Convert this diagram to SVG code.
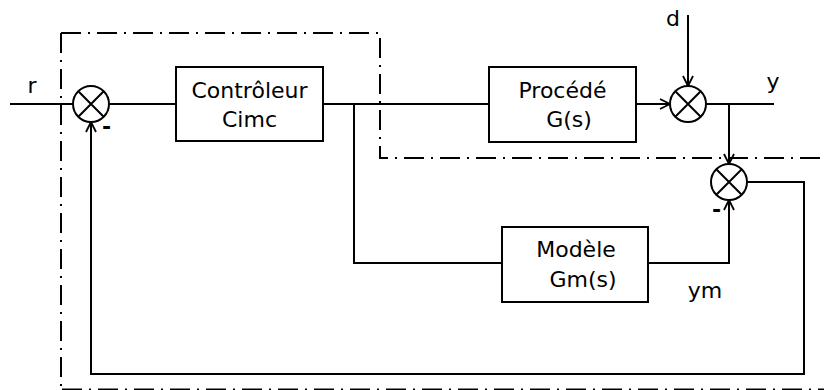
<svg xmlns="http://www.w3.org/2000/svg" width="824" height="390" viewBox="0 0 824 390">
  <style>
    .box { fill: #fff; stroke: #000; stroke-width: 2; }
    .sum { fill: #fff; stroke: #000; stroke-width: 2; }
    .wire { fill: none; stroke: #000; stroke-width: 2; }
    .bound { fill: none; stroke: #000; stroke-width: 2; stroke-dasharray: 20 7 2 7; }
    text { font-family: "DejaVu Sans", "Liberation Sans", sans-serif; font-size: 22px; fill: #000; }
    .mid { text-anchor: middle; }
    .neg { font-weight: bold; }
  </style>
  <defs>
    <marker id="arrow" viewBox="0 0 12 12" refX="11" refY="6" markerWidth="12" markerHeight="12" markerUnits="userSpaceOnUse" orient="auto">
      <path d="M1,1 L11,6 L1,11" fill="none" stroke="#000" stroke-width="1.8"/>
    </marker>
  </defs>

  <!-- IMC boundary (dash-dot) -->
  <g id="boundary">
    <path class="bound" d="M61,33 L61,388"/>
    <path class="bound" d="M61,33 L380,33 L380,158 L824,158"/>
    <path class="bound" d="M62,389.5 L824,389.5"/>
  </g>

  <!-- connectors -->
  <g id="connectors">
    <path class="wire" d="M10,104 L73,104"/>
    <path class="wire" d="M109,104 L176,104"/>
    <path class="wire" d="M323,104 L489,104"/>
    <path class="wire" d="M354,104 L354,263 L502,263"/>
    <path class="wire" d="M636,104 L670,104" marker-end="url(#arrow)"/>
    <path class="wire" d="M688,15 L688,86" marker-end="url(#arrow)"/>
    <path class="wire" d="M706,104 L774,104"/>
    <path class="wire" d="M729,104 L729,164" marker-end="url(#arrow)"/>
    <path class="wire" d="M648,263 L729,263 L729,200" marker-end="url(#arrow)"/>
    <path class="wire" d="M747,182 L804,182 L804,374 L91,374 L91,122" marker-end="url(#arrow)"/>
  </g>

  <!-- summing junction: reference minus feedback -->
  <g id="sum1">
    <circle class="sum" cx="91" cy="104" r="18"/>
    <path class="wire" d="M78.3,91.3 L103.7,116.7 M103.7,91.3 L78.3,116.7"/>
    <text class="neg" x="102" y="134">-</text>
  </g>

  <!-- summing junction: process output plus disturbance -->
  <g id="sum2">
    <circle class="sum" cx="688" cy="104" r="18"/>
    <path class="wire" d="M675.3,91.3 L700.7,116.7 M700.7,91.3 L675.3,116.7"/>
  </g>

  <!-- summing junction: plant minus model -->
  <g id="sum3">
    <circle class="sum" cx="729" cy="182" r="18"/>
    <path class="wire" d="M716.3,169.3 L741.7,194.7 M741.7,169.3 L716.3,194.7"/>
    <text class="neg" x="712" y="217">-</text>
  </g>

  <g id="controller">
    <rect class="box" x="176" y="67" width="147" height="74"/>
    <text class="mid" x="249.5" y="98">Contrôleur</text>
    <text class="mid" x="249.5" y="126.5">Cimc</text>
  </g>

  <g id="process">
    <rect class="box" x="489" y="67" width="147" height="75"/>
    <text class="mid" x="562.5" y="97.5">Procédé</text>
    <text class="mid" x="569" y="126.5">G(s)</text>
  </g>

  <g id="model">
    <rect class="box" x="502" y="227" width="146" height="75"/>
    <text class="mid" x="576" y="257">Modèle</text>
    <text class="mid" x="583" y="287">Gm(s)</text>
  </g>

  <!-- signal labels -->
  <g id="labels">
    <text class="mid" x="32" y="92.5">r</text>
    <text class="mid" x="673" y="26">d</text>
    <text class="mid" x="773" y="89">y</text>
    <text class="mid" x="705" y="298">ym</text>
  </g>
</svg>
